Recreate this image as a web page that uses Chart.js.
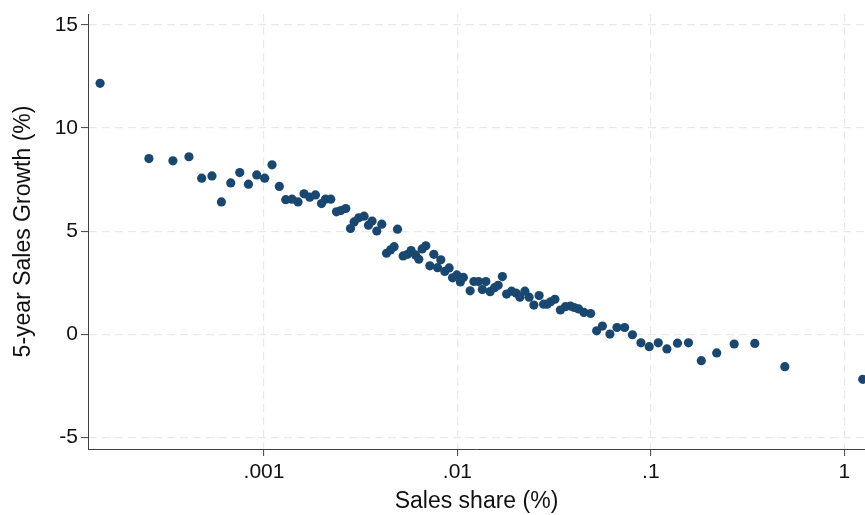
<!DOCTYPE html>
<html>
<head>
<meta charset="utf-8">
<script src="https://cdn.jsdelivr.net/npm/chart.js@4.4.0/dist/chart.umd.min.js"></script>
<style>
  html, body { margin: 0; padding: 0; background: #fff; }
  #wrap { width: 865px; height: 515px; }
</style>
</head>
<body>
<div id="wrap"><canvas id="grafico" width="865" height="515"></canvas></div>
<script>
// Datos (binscatter)
const salesShare = [
  0.000142, 0.000254, 0.000338, 0.000409, 0.000476, 0.000538, 0.000602, 0.000673, 0.000749, 0.000831,
  0.000917, 0.001008, 0.00110, 0.00120, 0.001295, 0.001396, 0.001499, 0.00161, 0.001723, 0.001845,
  0.001982, 0.002078, 0.002213, 0.002369, 0.002494, 0.002647, 0.002799, 0.002922, 0.00309, 0.003291,
  0.003468, 0.00362, 0.003828, 0.004064, 0.004298, 0.004508, 0.004705, 0.004899, 0.005238, 0.005518,
  0.00576, 0.006071, 0.006314, 0.006568, 0.006864, 0.0072, 0.00755, 0.00789, 0.008206, 0.008606,
  0.00906, 0.009434, 0.00993, 0.01035, 0.01073, 0.01163, 0.01216, 0.01286, 0.01345, 0.01403,
  0.01476, 0.01556, 0.01624, 0.01708, 0.01795, 0.01905, 0.0201, 0.02103, 0.02232, 0.02347,
  0.02485, 0.02644, 0.02789, 0.02911, 0.03032, 0.03191, 0.03406, 0.03615, 0.03838, 0.04015,
  0.04232, 0.04508, 0.04883, 0.05245, 0.05618, 0.06142, 0.06678, 0.07318, 0.08033, 0.08888,
  0.0981, 0.1092, 0.1211, 0.1373, 0.1565, 0.1823, 0.219, 0.2697, 0.3447, 0.4928,
  1.246
];
const salesGrowth = [
  12.17, 8.52, 8.41, 8.61, 7.57, 7.68, 6.42, 7.34, 7.84, 7.28,
  7.73, 7.57, 8.22, 7.17, 6.53, 6.55, 6.42, 6.81, 6.65, 6.76,
  6.34, 6.55, 6.55, 5.94, 6.00, 6.10, 5.13, 5.45, 5.65, 5.73,
  5.29, 5.49, 5.01, 5.34, 3.93, 4.09, 4.25, 5.10, 3.80, 3.88,
  4.06, 3.85, 3.64, 4.14, 4.29, 3.32, 3.88, 3.23, 3.61, 3.05,
  3.22, 2.74, 2.88, 2.54, 2.76, 2.11, 2.56, 2.56, 2.17, 2.56,
  2.07, 2.26, 2.38, 2.80, 1.95, 2.09, 2.00, 1.80, 2.09, 1.80,
  1.42, 1.88, 1.46, 1.46, 1.58, 1.70, 1.18, 1.34, 1.37, 1.30,
  1.23, 1.06, 1.01, 0.17, 0.40, 0.01, 0.33, 0.33, -0.02, -0.41,
  -0.60, -0.41, -0.71, -0.43, -0.41, -1.28, -0.90, -0.47, -0.44, -1.57,
  -2.18
];
const xTicks = [0.001, 0.01, 0.1, 1];
const xTickLabels = ['.001', '.01', '.1', '1'];
const yTicks = [-5, 0, 5, 10, 15];
const xRange = [0.000123, 1.28];
const yRange = [-5.56, 15.53];

const azul = '#1a476f';
const colorEje = '#404040';
const colorGrid = '#e9e9e9';
const fuente = "'Liberation Sans', Arial, Helvetica, sans-serif";

const puntos = salesShare.map((x, i) => ({ x: x, y: salesGrowth[i] }));

const ctx = document.getElementById('grafico').getContext('2d');
new Chart(ctx, {
    type: 'scatter',
    data: {
        datasets: [{
            data: puntos,
            backgroundColor: azul,
            borderColor: azul,
            borderWidth: 0,
            pointRadius: 4.6,
            pointHoverRadius: 4.6
        }]
    },
    options: {
        responsive: false,
        animation: false,
        devicePixelRatio: 1,
        layout: { autoPadding: false, padding: { top: 14, right: 0, bottom: 0, left: 0 } },
        plugins: { legend: { display: false }, tooltip: { enabled: false } },
        scales: {
            x: {
                type: 'logarithmic',
                min: xRange[0],
                max: xRange[1],
                afterBuildTicks: s => { s.ticks = xTicks.map(v => ({ value: v })); },
                afterFit: s => { s.height = 66; s.paddingLeft = 0; s.paddingRight = 0; },
                ticks: {
                    autoSkip: false,
                    maxRotation: 0,
                    padding: 4,
                    color: '#111',
                    font: { family: fuente, size: 21 },
                    callback: (v) => {
                        const i = xTicks.indexOf(v);
                        return i >= 0 ? xTickLabels[i] : '';
                    }
                },
                grid: {
                    color: colorGrid,
                    lineWidth: 1.2,
                    tickLength: 7,
                    tickColor: colorEje,
                    tickWidth: 1
                },
                border: { display: true, color: colorEje, width: 1, dash: [8, 5] },
                title: {
                    display: true,
                    text: 'Sales share (%)',
                    color: '#111',
                    font: { family: fuente, size: 23 },
                    padding: { top: 0, bottom: 0 }
                }
            },
            y: {
                type: 'linear',
                min: yRange[0],
                max: yRange[1],
                afterBuildTicks: s => { s.ticks = yTicks.map(v => ({ value: v })); },
                afterFit: s => { s.width = 88; s.paddingTop = 0; s.paddingBottom = 0; },
                ticks: {
                    padding: 3,
                    color: '#111',
                    font: { family: fuente, size: 21 },
                    callback: v => String(v)
                },
                grid: {
                    color: colorGrid,
                    lineWidth: 1.2,
                    tickLength: 7,
                    tickColor: colorEje,
                    tickWidth: 1
                },
                border: { display: true, color: colorEje, width: 1, dash: [8, 5] },
                title: {
                    display: true,
                    text: '5-year Sales Growth (%)',
                    color: '#111',
                    font: { family: fuente, size: 23 },
                    padding: { top: 10, bottom: 0 }
                }
            }
        }
    },
    plugins: [{
        id: 'fondo',
        beforeDraw: c => {
            const g = c.ctx;
            g.save();
            g.fillStyle = '#fff';
            g.fillRect(0, 0, c.width, c.height);
            g.restore();
        }
    }]
});
</script>
</body>
</html>
